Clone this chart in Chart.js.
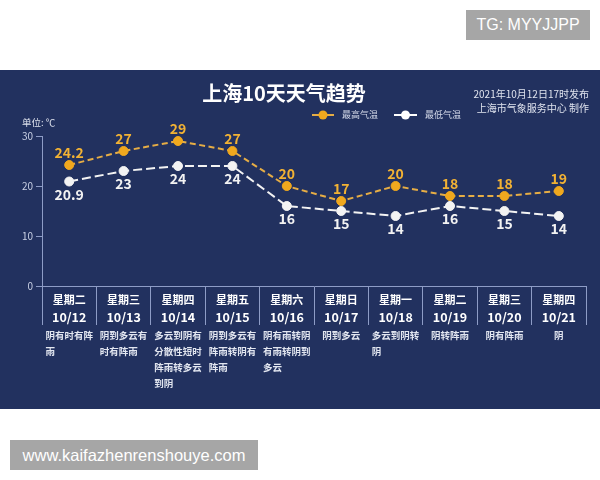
<!DOCTYPE html>
<html><head><meta charset="utf-8">
<script src="https://cdn.jsdelivr.net/npm/chart.js@4.4.0/dist/chart.umd.min.js"></script>
<style>
html,body{margin:0;padding:0;background:#fff;width:600px;height:480px;overflow:hidden;}
#wrap{position:relative;width:600px;height:480px;}
canvas{position:absolute;left:0;top:0;}
.wm{position:absolute;background:#a6a6a6;color:#fff;font-family:'Liberation Sans',Arial,sans-serif;display:flex;align-items:center;justify-content:center;}
</style></head><body>
<div id="wrap"><canvas id="c" width="600" height="480"></canvas>
<div class="wm" style="left:466px;top:10px;width:124px;height:30px;font-size:16px;">TG: MYYJJPP</div>
<div class="wm" style="left:10px;top:440px;width:248px;height:30px;font-size:16.5px;">www.kaifazhenrenshouye.com</div>
</div>
<script>
const dates = ['10/12','10/13','10/14','10/15','10/16','10/17','10/18','10/19','10/20','10/21'];
const weekdays = ['星期二','星期三','星期四','星期五','星期六','星期日','星期一','星期二','星期三','星期四'];
const weather = ['阴有时有阵雨','阴到多云有时有阵雨','多云到阴有分散性短时阵雨转多云到阴','阴到多云有阵雨转阴有阵雨','阴有雨转阴有雨转阴到多云','阴到多云','多云到阴转阴','阴转阵雨','阴有阵雨','阴'];
const highTemp = [24.2,27,29,27,20,17,20,18,18,19];
const lowTemp = [20.9,23,24,24,16,15,14,16,15,14];
const yTicks = [0,10,20,30];

const CJK = "'Noto Sans CJK SC', 'Noto Sans', sans-serif";
const NAVY = '#22315f';
const AXIS = '#8e9cc6';
const ORANGE = '#f0a81e';
const ORANGE_LINE = '#e6ad45';
const ORANGE_TXT = '#f2b234';
const WHITE = '#f3f3f3';

const decorPlugin = {
  id: 'decor',
  beforeDraw(chart) {
    const ctx = chart.ctx;
    ctx.save();
    ctx.fillStyle = '#ffffff';
    ctx.fillRect(0, 0, 600, 480);
    ctx.fillStyle = NAVY;
    ctx.fillRect(0, 70, 600, 339);
    ctx.restore();
  },
  afterDraw(chart) {
    const ctx = chart.ctx;
    ctx.save();
    // title
    ctx.fillStyle = '#ffffff';
    ctx.font = 'bold 20px ' + CJK;
    ctx.textAlign = 'center';
    ctx.textBaseline = 'middle';
    ctx.fillText('上海10天天气趋势', 284, 93);
    // publish info
    ctx.font = '10px ' + CJK;
    ctx.fillStyle = '#dfe3ee';
    ctx.textAlign = 'right';
    ctx.fillText('2021年10月12日17时发布', 589, 94);
    ctx.fillText('上海市气象服务中心 制作', 589, 108);
    // unit
    ctx.textAlign = 'left';
    ctx.font = '9.5px ' + CJK;
    ctx.fillText('单位: ℃', 22, 122);
    // legend
    const leg = [
      {x1: 312, x2: 334, color: ORANGE, line: ORANGE_LINE, label: chart.data.datasets[0].label, tx: 342},
      {x1: 394, x2: 417, color: '#ffffff', line: '#ffffff', label: chart.data.datasets[1].label, tx: 425}
    ];
    leg.forEach(l => {
      ctx.strokeStyle = l.line;
      ctx.lineWidth = 2;
      ctx.beginPath(); ctx.moveTo(l.x1, 115); ctx.lineTo(l.x2, 115); ctx.stroke();
      ctx.fillStyle = l.color;
      ctx.beginPath(); ctx.arc((l.x1 + l.x2) / 2, 115, 4.5, 0, Math.PI * 2); ctx.fill();
      ctx.fillStyle = '#d6dbea';
      ctx.font = '9px ' + CJK;
      ctx.textAlign = 'left';
      ctx.fillText(l.label, l.tx, 115);
    });
    // category labels
    const xs = chart.scales.x;
    for (let i = 0; i < dates.length; i++) {
      const cx = xs.getPixelForValue(i);
      ctx.fillStyle = '#ffffff';
      ctx.textAlign = 'center';
      ctx.font = 'bold 11px ' + CJK;
      ctx.fillText(weekdays[i], cx, 300);
      ctx.font = 'bold 12.5px ' + CJK;
      ctx.fillText(dates[i], cx, 317);
      // description
      ctx.font = 'bold 9.5px ' + CJK;
      ctx.fillStyle = '#e2e6f0';
      const lines = [];
      for (let k = 0; k < weather[i].length; k += 5) lines.push(weather[i].slice(k, k + 5));
      const bw = Math.max(...lines.map(s => ctx.measureText(s).width));
      ctx.textAlign = 'left';
      lines.forEach((s, j) => ctx.fillText(s, cx - bw / 2, 335 + j * 16));
    }
    ctx.restore();
  },
  afterDatasetsDraw(chart) {
    const ctx = chart.ctx;
    ctx.save();
    ctx.font = 'bold 14px ' + CJK;
    ctx.textAlign = 'center';
    ctx.textBaseline = 'middle';
    chart.data.datasets.forEach((ds, di) => {
      const meta = chart.getDatasetMeta(di);
      meta.data.forEach((pt, i) => {
        if (di === 0) {
          ctx.fillStyle = ORANGE_TXT;
          ctx.fillText(String(ds.data[i]), pt.x, pt.y - 12);
        } else {
          ctx.fillStyle = WHITE;
          ctx.fillText(String(ds.data[i]), pt.x, pt.y + 13);
        }
      });
    });
    ctx.restore();
  }
};

new Chart(document.getElementById('c'), {
  type: 'line',
  data: {
    labels: dates,
    datasets: [
      {label: '最高气温', data: highTemp, borderColor: ORANGE_LINE, backgroundColor: ORANGE,
       pointBackgroundColor: ORANGE, pointBorderColor: ORANGE, pointRadius: 4.5, pointBorderWidth: 1,
       borderWidth: 2, borderDash: [6, 3.5], tension: 0, clip: false},
      {label: '最低气温', data: lowTemp, borderColor: WHITE, backgroundColor: WHITE,
       pointBackgroundColor: WHITE, pointBorderColor: WHITE, pointRadius: 4.5, pointBorderWidth: 1,
       borderWidth: 2, borderDash: [9, 4], tension: 0, clip: false}
    ]
  },
  options: {
    responsive: false,
    animation: false,
    devicePixelRatio: 1,
    layout: {padding: {left: 0, top: 136, right: 14, bottom: 155}},
    plugins: {legend: {display: false}, title: {display: false}, tooltip: {enabled: false}},
    scales: {
      x: {
        offset: true,
        grid: {offset: true, drawOnChartArea: false, drawTicks: true, tickLength: 39, color: AXIS, lineWidth: 1},
        border: {display: true, color: AXIS, width: 1},
        ticks: {display: false},
        afterFit(s) { s.height = 39; }
      },
      y: {
        min: 0, max: 30,
        afterBuildTicks(s) { s.ticks = yTicks.map(v => ({value: v})); },
        grid: {drawOnChartArea: false, drawTicks: true, tickLength: 6, color: AXIS},
        border: {display: true, color: AXIS, width: 1},
        ticks: {color: '#c9d0e4', font: {size: 10, family: CJK}, padding: 3},
        afterFit(s) { s.width = 42; }
      }
    }
  },
  plugins: [decorPlugin]
});
</script>
</body></html>
